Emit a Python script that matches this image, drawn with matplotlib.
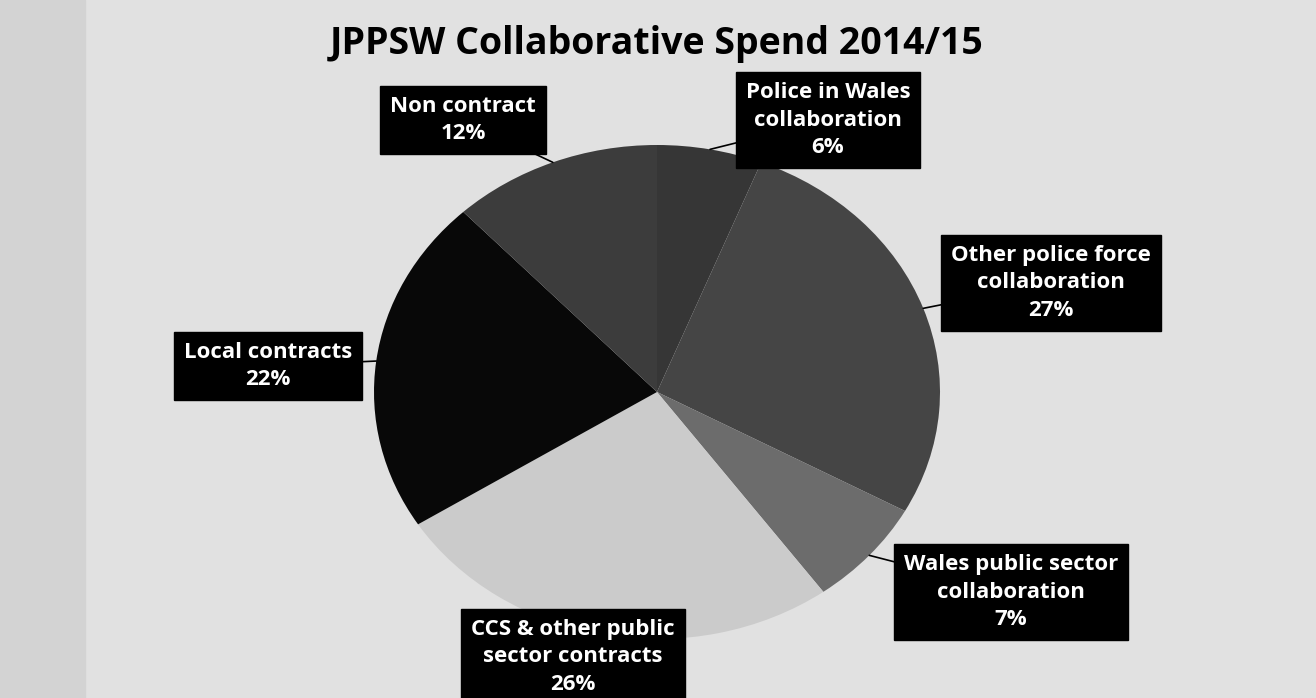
import numpy as np
import matplotlib.pyplot as plt
from matplotlib.patches import Rectangle

title = "JPPSW Collaborative Spend 2014/15"
labels = ["Police in Wales\ncollaboration", "Other police force\ncollaboration",
          "Wales public sector\ncollaboration", "CCS & other public\nsector contracts",
          "Local contracts", "Non contract"]
shares = [6, 27, 7, 26, 22, 12]
colours = ["#363636", "#454545", "#6c6c6c", "#cbcbcb", "#080808", "#3c3c3c"]

# label box centres in figure pixels (x, y from top)
box_pos = [(828, 120), (1051, 283), (1011, 592), (573, 657), (268, 366), (463, 120)]

W, H = 1316, 698
fig = plt.figure(figsize=(W / 100, H / 100), dpi=100)
fig.patch.set_facecolor("#e1e1e1")
fig.patches.append(Rectangle((0, 0), 85 / W, 1, transform=fig.transFigure,
                             color="#d3d3d3", zorder=0))

cx, cy, rx, ry = 657, 392, 283, 247
ax = fig.add_axes([(cx - rx) / W, (H - cy - ry) / H, 2 * rx / W, 2 * ry / H])
wedges, _ = ax.pie(shares, colors=colours, startangle=90, counterclock=False,
                   wedgeprops=dict(linewidth=0))
ax.set_aspect("auto")
ax.set_xlim(-1, 1)
ax.set_ylim(-1, 1)
ax.axis("off")

fig.text(cx / W, 1 - 44 / H, title, ha="center", va="center",
         fontsize=27, fontweight="bold", family="Open Sans", color="black")

for w, lab, s, (bx, by) in zip(wedges, labels, shares, box_pos):
    mid = np.deg2rad((w.theta1 + w.theta2) / 2)
    ex, ey = np.cos(mid), np.sin(mid)
    # point on pie edge in figure fraction
    px, py = fig.transFigure.inverted().transform(ax.transData.transform((ex, ey)))
    bxf, byf = bx / W, 1 - by / H
    ax.annotate("", xy=(px, py), xycoords="figure fraction",
                xytext=(bxf, byf), textcoords="figure fraction",
                arrowprops=dict(arrowstyle="-", color="black", lw=1.2,
                                shrinkA=0, shrinkB=0), zorder=1)
    fig.text(bxf, byf, f"{lab}\n{s}%", ha="center", va="center",
             fontsize=16, fontweight="bold", family="Open Sans", color="white",
             linespacing=1.42,
             bbox=dict(boxstyle="square,pad=0.45", fc="black", ec="black"))

fig.savefig("out.png", dpi=100, facecolor=fig.get_facecolor())
